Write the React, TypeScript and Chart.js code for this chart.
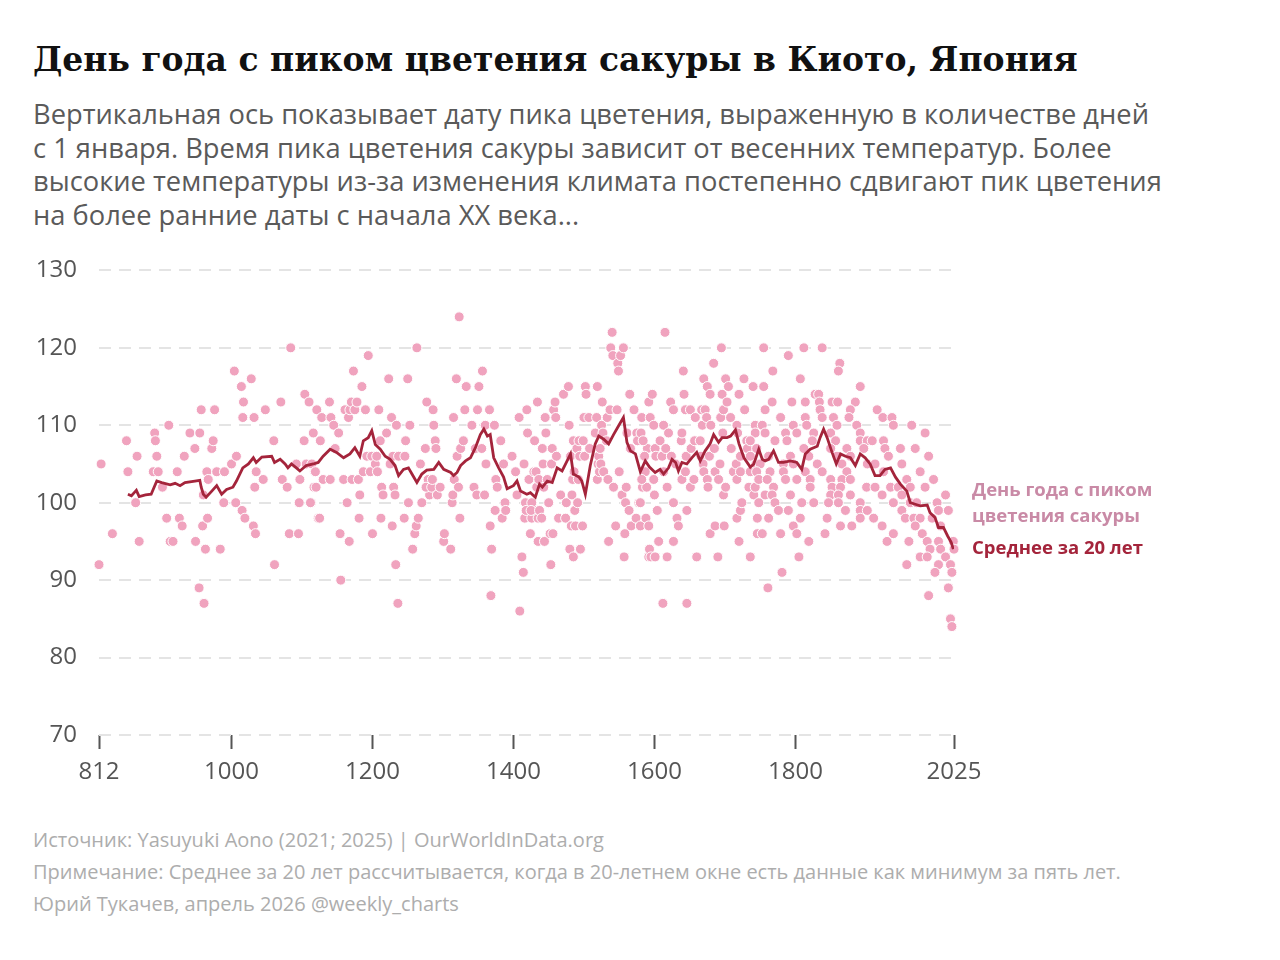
import { useEffect, useRef } from 'react'
import { Chart, registerables } from 'chart.js'

Chart.register(...registerables)

// [year, day of year]
const bloomDates: [number, number][] = [
  [812, 92], [815, 105], [831, 96], [851, 108], [853, 104], [864, 100], [866, 106], [869, 95],
  [889, 104], [891, 109], [892, 108], [894, 106], [896, 104], [902, 102], [908, 98], [911, 110],
  [913, 95], [917, 95], [923, 104], [926, 98], [930, 97], [933, 106], [941, 109], [948, 107],
  [949, 95], [955, 109], [954, 89], [957, 112], [959, 97], [960, 101], [961, 87], [963, 94],
  [965, 104], [966, 98],
  [967, 103], [972, 107], [974, 108], [976, 112], [979, 104], [984, 94], [989, 100], [990, 104],
  [1000, 105], [1004, 117], [1006, 100], [1007, 106], [1014, 115], [1016, 111], [1015, 99],
  [1017, 113], [1019, 98], [1028, 116], [1031, 97], [1032, 111], [1033, 102], [1034, 96],
  [1035, 104], [1045, 103], [1048, 112], [1060, 108], [1061, 92], [1070, 113], [1072, 103],
  [1079, 102], [1082, 96], [1084, 120], [1092, 105], [1095, 96], [1096, 100], [1097, 103],
  [1103, 108], [1104, 114], [1106, 105], [1110, 113], [1113, 100], [1116, 109], [1117, 102],
  [1118, 104], [1121, 112], [1123, 98],
  [1112, 100], [1114, 105], [1119, 104], [1120, 102], [1125, 98], [1126, 108], [1128, 111],
  [1130, 103], [1139, 113], [1140, 103], [1141, 111], [1145, 110], [1147, 107], [1152, 109],
  [1154, 96], [1155, 90], [1159, 103], [1161, 112], [1164, 100], [1166, 111], [1167, 95],
  [1168, 112], [1170, 113], [1171, 103], [1173, 117], [1175, 112], [1178, 113], [1180, 103],
  [1181, 98], [1182, 101], [1185, 115], [1187, 104], [1190, 112], [1192, 106], [1194, 119],
  [1197, 104], [1199, 106], [1200, 96], [1204, 105], [1206, 106], [1207, 104], [1209, 112],
  [1211, 108], [1212, 98], [1213, 102], [1215, 101], [1220, 109], [1223, 116], [1225, 105],
  [1227, 111], [1229, 106], [1228, 97], [1230, 102], [1232, 101], [1233, 92], [1234, 110],
  [1236, 87], [1237, 106], [1245, 98], [1246, 106], [1247, 108], [1250, 116], [1251, 100],
  [1253, 110], [1257, 94], [1260, 96], [1263, 120], [1262, 97], [1265, 98], [1268, 105],
  [1270, 100], [1275, 107], [1277, 113], [1279, 103], [1281, 101],
  [1276, 102], [1284, 102], [1285, 103], [1286, 112], [1287, 110], [1289, 108], [1290, 107],
  [1292, 101], [1296, 102], [1301, 95], [1302, 96], [1311, 94], [1313, 100], [1314, 101],
  [1315, 111], [1316, 103], [1319, 116], [1320, 106], [1322, 102], [1323, 124], [1324, 98],
  [1325, 107], [1329, 108], [1331, 112], [1333, 115], [1341, 110], [1344, 102], [1346, 107],
  [1348, 101], [1349, 112], [1351, 115], [1355, 107], [1356, 117], [1359, 101], [1360, 110],
  [1361, 105], [1366, 112], [1367, 97], [1368, 88], [1369, 94], [1373, 110], [1374, 99],
  [1375, 103], [1377, 102], [1382, 108], [1384, 98], [1386, 105], [1388, 100], [1389, 99],
  [1398, 106], [1403, 104], [1405, 101], [1408, 111], [1409, 86], [1412, 93], [1414, 91],
  [1415, 105], [1416, 98], [1417, 100], [1418, 99], [1419, 112], [1420, 109], [1422, 103],
  [1424, 96], [1426, 98], [1429, 104], [1430, 108], [1431, 99], [1434, 113], [1435, 95],
  [1426, 100], [1425, 99], [1432, 104], [1433, 102], [1435, 98], [1436, 103], [1437, 99],
  [1440, 98], [1441, 107], [1442, 105], [1443, 102], [1444, 95], [1445, 111], [1446, 109],
  [1448, 103], [1450, 100], [1452, 96], [1453, 92], [1454, 105], [1455, 107], [1456, 96],
  [1457, 112], [1459, 113], [1460, 111], [1461, 106], [1464, 98], [1467, 101], [1471, 114],
  [1474, 98], [1475, 100], [1478, 115], [1479, 110], [1481, 106], [1480, 94], [1482, 97],
  [1483, 101], [1484, 103], [1485, 108], [1485, 93], [1486, 104], [1487, 99], [1488, 97],
  [1490, 107], [1491, 100], [1492, 103], [1493, 108], [1494, 106], [1495, 94], [1498, 97],
  [1499, 108], [1500, 111], [1501, 106], [1502, 115], [1503, 114], [1507, 111], [1508, 107],
  [1516, 109], [1518, 111], [1519, 115], [1519, 103], [1520, 105], [1521, 106], [1522, 104],
  [1523, 107], [1524, 105], [1525, 110], [1526, 113], [1527, 109], [1528, 104], [1532, 108],
  [1533, 111], [1534, 103], [1535, 95], [1537, 112], [1538, 120], [1540, 122], [1541, 119],
  [1542, 102], [1545, 97], [1547, 112], [1548, 118], [1549, 117], [1550, 104], [1552, 119],
  [1554, 101], [1556, 120], [1557, 93], [1558, 96], [1559, 100], [1560, 102], [1561, 109],
  [1564, 99], [1565, 114], [1566, 107], [1567, 97], [1571, 112], [1574, 98], [1575, 109],
  [1576, 108], [1578, 100], [1580, 97], [1582, 111], [1583, 102], [1585, 106], [1587, 104],
  [1588, 98], [1589, 102], [1590, 107], [1592, 93],
  [1580, 100], [1581, 109], [1582, 103], [1584, 108], [1586, 106], [1592, 113], [1592, 97],
  [1593, 94], [1594, 111], [1595, 93], [1597, 114], [1599, 110], [1599, 103], [1600, 101],
  [1601, 107], [1601, 93], [1602, 106], [1604, 99], [1606, 95], [1608, 108], [1611, 106],
  [1612, 87], [1613, 110], [1613, 104], [1615, 122], [1616, 107], [1618, 102], [1618, 93],
  [1620, 109], [1623, 113], [1624, 106], [1627, 112], [1627, 100], [1627, 95], [1630, 105],
  [1632, 98], [1634, 97], [1638, 108], [1639, 109], [1639, 103], [1641, 117], [1642, 114],
  [1644, 112], [1644, 104], [1645, 106], [1646, 99], [1646, 87], [1651, 112], [1651, 102],
  [1652, 107], [1656, 103], [1657, 108], [1658, 111], [1660, 93], [1665, 108], [1666, 106],
  [1667, 112], [1668, 110], [1669, 105], [1670, 116], [1670, 104], [1672, 112], [1674, 111],
  [1675, 115], [1675, 103], [1676, 102], [1678, 106], [1679, 114], [1679, 96], [1680, 110],
  [1684, 118], [1685, 107], [1686, 104], [1686, 97], [1690, 93], [1691, 103], [1693, 105],
  [1694, 111], [1695, 120], [1696, 114], [1697, 109], [1698, 112], [1698, 101], [1699, 97],
  [1701, 116], [1701, 102], [1703, 113], [1705, 115], [1708, 111], [1709, 107], [1712, 104],
  [1716, 105], [1717, 110], [1717, 103], [1717, 98], [1718, 109], [1720, 114], [1720, 95],
  [1722, 106], [1722, 104], [1722, 99], [1724, 100], [1727, 116], [1728, 112], [1731, 108],
  [1732, 107], [1734, 102], [1736, 104], [1736, 93], [1740, 115], [1741, 101], [1743, 110],
  [1743, 102], [1744, 105], [1746, 98], [1746, 96],
  [1755, 120], [1812, 120], [1838, 120], [1790, 119], [1863, 118], [1768, 117], [1861, 117],
  [1807, 116], [1755, 115], [1892, 115], [1828, 114], [1833, 114],
  [1767, 113], [1795, 113], [1814, 113], [1834, 113], [1852, 113], [1860, 113], [1885, 113],
  [1757, 112], [1835, 112], [1878, 112],
  [1779, 111], [1814, 111], [1838, 111], [1854, 111], [1876, 111],
  [1753, 110], [1797, 110], [1816, 110], [1859, 110], [1887, 110],
  [1743, 109], [1757, 109], [1786, 109], [1802, 109], [1826, 109], [1850, 109], [1892, 109],
  [1736, 108], [1771, 108], [1788, 108], [1824, 108], [1857, 108], [1892, 108], [1902, 108],
  [1745, 107], [1812, 107], [1850, 107], [1873, 107], [1897, 107],
  [1736, 106], [1762, 106], [1793, 106], [1819, 106], [1859, 106], [1878, 106],
  [1750, 105], [1783, 105], [1797, 105], [1831, 105], [1866, 105], [1902, 105],
  [1745, 104], [1764, 104], [1783, 104], [1814, 104], [1838, 104], [1873, 104],
  [1748, 103], [1760, 103], [1786, 103], [1802, 103], [1821, 103], [1850, 103], [1866, 103], [1878, 103],
  [1769, 102], [1821, 102], [1852, 102], [1864, 102],
  [1757, 101], [1767, 101], [1793, 101], [1850, 101], [1861, 101], [1878, 101],
  [1748, 100], [1771, 100], [1809, 100], [1826, 100], [1847, 100], [1861, 100], [1892, 100],
  [1776, 99], [1790, 99], [1871, 99], [1892, 99], [1902, 99],
  [1762, 98], [1807, 98], [1845, 98], [1892, 98],
  [1797, 97], [1864, 97], [1880, 97],
  [1753, 96], [1779, 96], [1802, 96], [1842, 96],
  [1819, 95], [1805, 93], [1781, 91], [1761, 89],
  [1916, 112], [1924, 111], [1937, 111], [1939, 110], [1965, 110], [1984, 109], [1909, 108],
  [1925, 108], [1927, 107], [1949, 107], [1970, 107], [1989, 106], [1932, 106], [1913, 105],
  [1951, 105], [1977, 104], [1925, 104], [1996, 103], [1958, 103], [1901, 102], [1913, 102],
  [1935, 102], [1946, 102], [1963, 102], [1984, 102], [1923, 101], [1951, 101], [2013, 101],
  [1939, 100], [1963, 100], [1972, 100], [2001, 100], [1951, 99], [2003, 99], [2017, 99],
  [1911, 98], [1956, 98], [1968, 98], [1977, 98], [1994, 98], [1923, 97], [1970, 97],
  [2006, 97], [1939, 96], [1980, 96], [1930, 95], [1961, 95], [1987, 95], [2003, 95],
  [2024, 95], [1991, 94], [2006, 94], [2025, 94], [1977, 93], [1987, 93], [2013, 93],
  [1958, 92], [2003, 92], [2020, 92], [1998, 91], [2022, 91], [2017, 89], [1989, 88],
  [2020, 85], [2022, 84],
]

// 20-year average
const rollingAvg: [number, number][] = [
  [853, 101.1], [858, 100.9], [862, 101.3], [865, 101.6], [869, 100.8], [878, 101.0], [886, 101.1],
  [894, 102.8], [901, 102.6], [913, 102.3], [920, 102.5], [927, 102.2], [934, 102.6], [948, 102.8],
  [955, 102.9], [957, 102.0], [960, 101.1], [964, 100.7], [972, 101.5], [979, 102.2], [986, 101.1],
  [993, 101.7], [1002, 102.0], [1007, 102.8], [1016, 104.5], [1024, 105.0], [1031, 105.8],
  [1035, 105.2], [1043, 105.9], [1057, 106.0], [1061, 105.2], [1069, 105.6], [1076, 105.0],
  [1080, 104.5], [1085, 105.0], [1092, 104.5], [1097, 104.1], [1106, 104.8], [1116, 105.0],
  [1123, 105.2], [1130, 106.0], [1140, 106.9], [1149, 106.5], [1159, 105.8], [1168, 106.3],
  [1175, 107.1], [1182, 106.0], [1187, 108.0], [1194, 108.4], [1199, 109.3], [1204, 107.5],
  [1211, 106.9], [1218, 106.0], [1225, 105.6], [1232, 104.8], [1237, 103.5], [1244, 104.3],
  [1251, 104.5], [1256, 103.7], [1263, 102.6], [1270, 103.7], [1277, 104.2], [1287, 104.3],
  [1294, 105.2], [1301, 104.3], [1311, 103.9], [1315, 103.5], [1320, 103.9], [1325, 104.8],
  [1332, 105.4], [1339, 105.8], [1346, 107.1], [1353, 108.8], [1358, 109.5], [1363, 108.6],
  [1367, 108.8], [1372, 105.8], [1379, 104.5], [1386, 103.3], [1391, 101.8], [1400, 102.2],
  [1405, 102.8], [1410, 101.5], [1419, 101.1], [1424, 101.3], [1431, 100.7], [1437, 102.4],
  [1441, 102.0], [1448, 102.8], [1455, 102.6], [1462, 104.5], [1469, 104.1], [1474, 105.0],
  [1481, 106.3], [1485, 103.7], [1493, 103.3], [1497, 102.8], [1502, 101.1], [1509, 104.8],
  [1516, 107.6], [1521, 108.6], [1528, 108.2], [1535, 107.6], [1542, 108.8], [1549, 109.9],
  [1556, 111.0], [1561, 107.8], [1566, 106.7], [1573, 106.3], [1580, 104.0], [1587, 105.4],
  [1593, 104.6], [1601, 103.9], [1608, 104.3], [1613, 103.7], [1620, 104.5], [1625, 105.6],
  [1630, 105.2], [1634, 104.1], [1639, 105.2], [1646, 105.0], [1653, 105.8], [1660, 106.5],
  [1665, 105.4], [1672, 106.7], [1679, 107.6], [1684, 108.8], [1691, 107.8], [1696, 108.4],
  [1703, 108.4], [1708, 108.6], [1715, 109.4], [1720, 107.6], [1727, 105.8], [1736, 104.6],
  [1741, 105.0], [1748, 106.9], [1753, 105.6], [1757, 105.4], [1762, 105.6], [1769, 106.7],
  [1776, 105.2], [1783, 105.2], [1793, 105.4], [1802, 105.2], [1809, 104.3], [1814, 106.3],
  [1821, 106.9], [1831, 107.3], [1835, 108.4], [1840, 109.5], [1845, 108.4], [1852, 106.5],
  [1858, 105.0], [1864, 106.3], [1871, 106.0], [1878, 105.8], [1885, 104.8], [1892, 106.3],
  [1899, 105.8], [1906, 105.0], [1913, 103.5], [1920, 103.5], [1927, 104.3], [1935, 104.5],
  [1942, 103.3], [1949, 102.4], [1958, 101.5], [1963, 100.0], [1970, 99.8], [1977, 99.6],
  [1987, 99.7], [1991, 98.7], [1998, 98.1], [2003, 96.8], [2010, 96.8], [2016, 95.7],
  [2021, 94.9], [2024, 94.0],
]

const xTicks = [812, 1000, 1200, 1400, 1600, 1800, 2025]
const yTicks = [70, 80, 90, 100, 110, 120, 130]

const pointLabel = ['День года с пиком', 'цветения сакуры']
const avgLabel = 'Среднее за 20 лет'

const title = 'День года с пиком цветения сакуры в Киото, Япония'
const subtitle = [
  'Вертикальная ось показывает дату пика цветения, выраженную в количестве дней',
  'с 1 января. Время пика цветения сакуры зависит от весенних температур. Более',
  'высокие температуры из-за изменения климата постепенно сдвигают пик цветения',
  'на более ранние даты с начала XX века...',
]
const footer = [
  'Источник: Yasuyuki Aono (2021; 2025) | OurWorldInData.org',
  'Примечание: Среднее за 20 лет рассчитывается, когда в 20-летнем окне есть данные как минимум за пять лет.',
  'Юрий Тукачев, апрель 2026 @weekly_charts',
]

const PINK = '#f0a3be'
const RED = '#a4243b'
const SANS = '"Open Sans", "Noto Sans", sans-serif'

const sideLabels = {
  id: 'sideLabels',
  afterDraw(chart: any) {
    const { ctx, chartArea, scales } = chart
    const x = chartArea.right + 18
    ctx.save()
    ctx.font = `bold 18.5px ${SANS}`
    ctx.textBaseline = 'middle'
    ctx.fillStyle = '#c98aa6'
    ctx.fillText(pointLabel[0], x, scales.y.getPixelForValue(101.6))
    ctx.fillText(pointLabel[1], x, scales.y.getPixelForValue(98.2))
    ctx.fillStyle = RED
    ctx.fillText(avgLabel, x, scales.y.getPixelForValue(94.0))
    ctx.restore()
  },
}

function BloomChart() {
  const canvasRef = useRef<HTMLCanvasElement>(null)
  const chartInstance = useRef<Chart | null>(null)

  useEffect(() => {
    if (!canvasRef.current) return
    if (chartInstance.current) chartInstance.current.destroy()

    chartInstance.current = new Chart(canvasRef.current, {
      type: 'scatter',
      data: {
        datasets: [
          {
            type: 'line',
            label: avgLabel,
            data: rollingAvg.map(([x, y]) => ({ x, y })),
            borderColor: RED,
            borderWidth: 2.8,
            pointRadius: 0,
            tension: 0,
            order: 0,
          } as any,
          {
            label: pointLabel.join(' '),
            data: bloomDates.map(([x, y]) => ({ x, y })),
            backgroundColor: PINK,
            borderColor: '#ffffff',
            borderWidth: 1,
            pointRadius: 5,
            clip: false,
            order: 1,
          },
        ],
      },
      options: {
        responsive: false,
        animation: false,
        layout: { padding: { top: 0, right: 326, left: 0, bottom: 0 } },
        plugins: {
          legend: { display: false },
          tooltip: { enabled: false },
        },
        scales: {
          x: {
            type: 'linear',
            min: 812,
            max: 2025,
            afterFit: (s: any) => { s.height = 65 },
            afterBuildTicks: (s: any) => { s.ticks = xTicks.map((v) => ({ value: v })) },
            border: { display: false },
            grid: {
              drawOnChartArea: false,
              drawTicks: true,
              tickLength: 14,
              tickWidth: 2,
              tickColor: '#555',
            },
            ticks: {
              color: '#555',
              padding: 9,
              font: { family: SANS, size: 24 },
              maxRotation: 0,
              autoSkip: false,
              callback: (v: any) => String(v),
            },
          },
          y: {
            min: 70,
            max: 130,
            afterFit: (s: any) => { s.width = 99 },
            afterBuildTicks: (s: any) => { s.ticks = yTicks.map((v) => ({ value: v })) },
            border: { display: false, dash: [12, 8] },
            grid: {
              color: '#e4e4e4',
              lineWidth: 2,
              drawTicks: false,
            },
            ticks: {
              color: '#555',
              padding: 22,
              font: { family: SANS, size: 24 },
              callback: (v: any) => String(v),
            },
          },
        },
      },
      plugins: [sideLabels],
    })

    return () => {
      if (chartInstance.current) {
        chartInstance.current.destroy()
        chartInstance.current = null
      }
    }
  }, [])

  return <canvas ref={canvasRef} width={1280} height={566} />
}

export default function App() {
  useEffect(() => {
    document.body.style.margin = '0'
    document.body.style.background = '#fff'
  }, [])

  return (
    <div style={{ position: 'relative', width: 1280, height: 960, background: '#fff', overflow: 'hidden' }}>
      <div
        style={{
          position: 'absolute', left: 33, top: 36, fontFamily: '"DejaVu Serif", serif',
          fontWeight: 'bold', fontSize: 33, color: '#111', whiteSpace: 'nowrap', lineHeight: '48px',
        }}
      >
        {title}
      </div>
      <div
        style={{
          position: 'absolute', left: 33, top: 97, fontFamily: SANS, fontSize: 27.3,
          color: '#5a5a5a', lineHeight: '33.5px', whiteSpace: 'nowrap',
        }}
      >
        {subtitle.map((line) => <div key={line}>{line}</div>)}
      </div>
      <div style={{ position: 'absolute', left: 0, top: 234 }}>
        <BloomChart />
      </div>
      <div
        style={{
          position: 'absolute', left: 33, top: 824, fontFamily: SANS, fontSize: 20,
          color: '#adadad', lineHeight: '32px', whiteSpace: 'nowrap',
        }}
      >
        {footer.map((line) => <div key={line}>{line}</div>)}
      </div>
    </div>
  )
}
